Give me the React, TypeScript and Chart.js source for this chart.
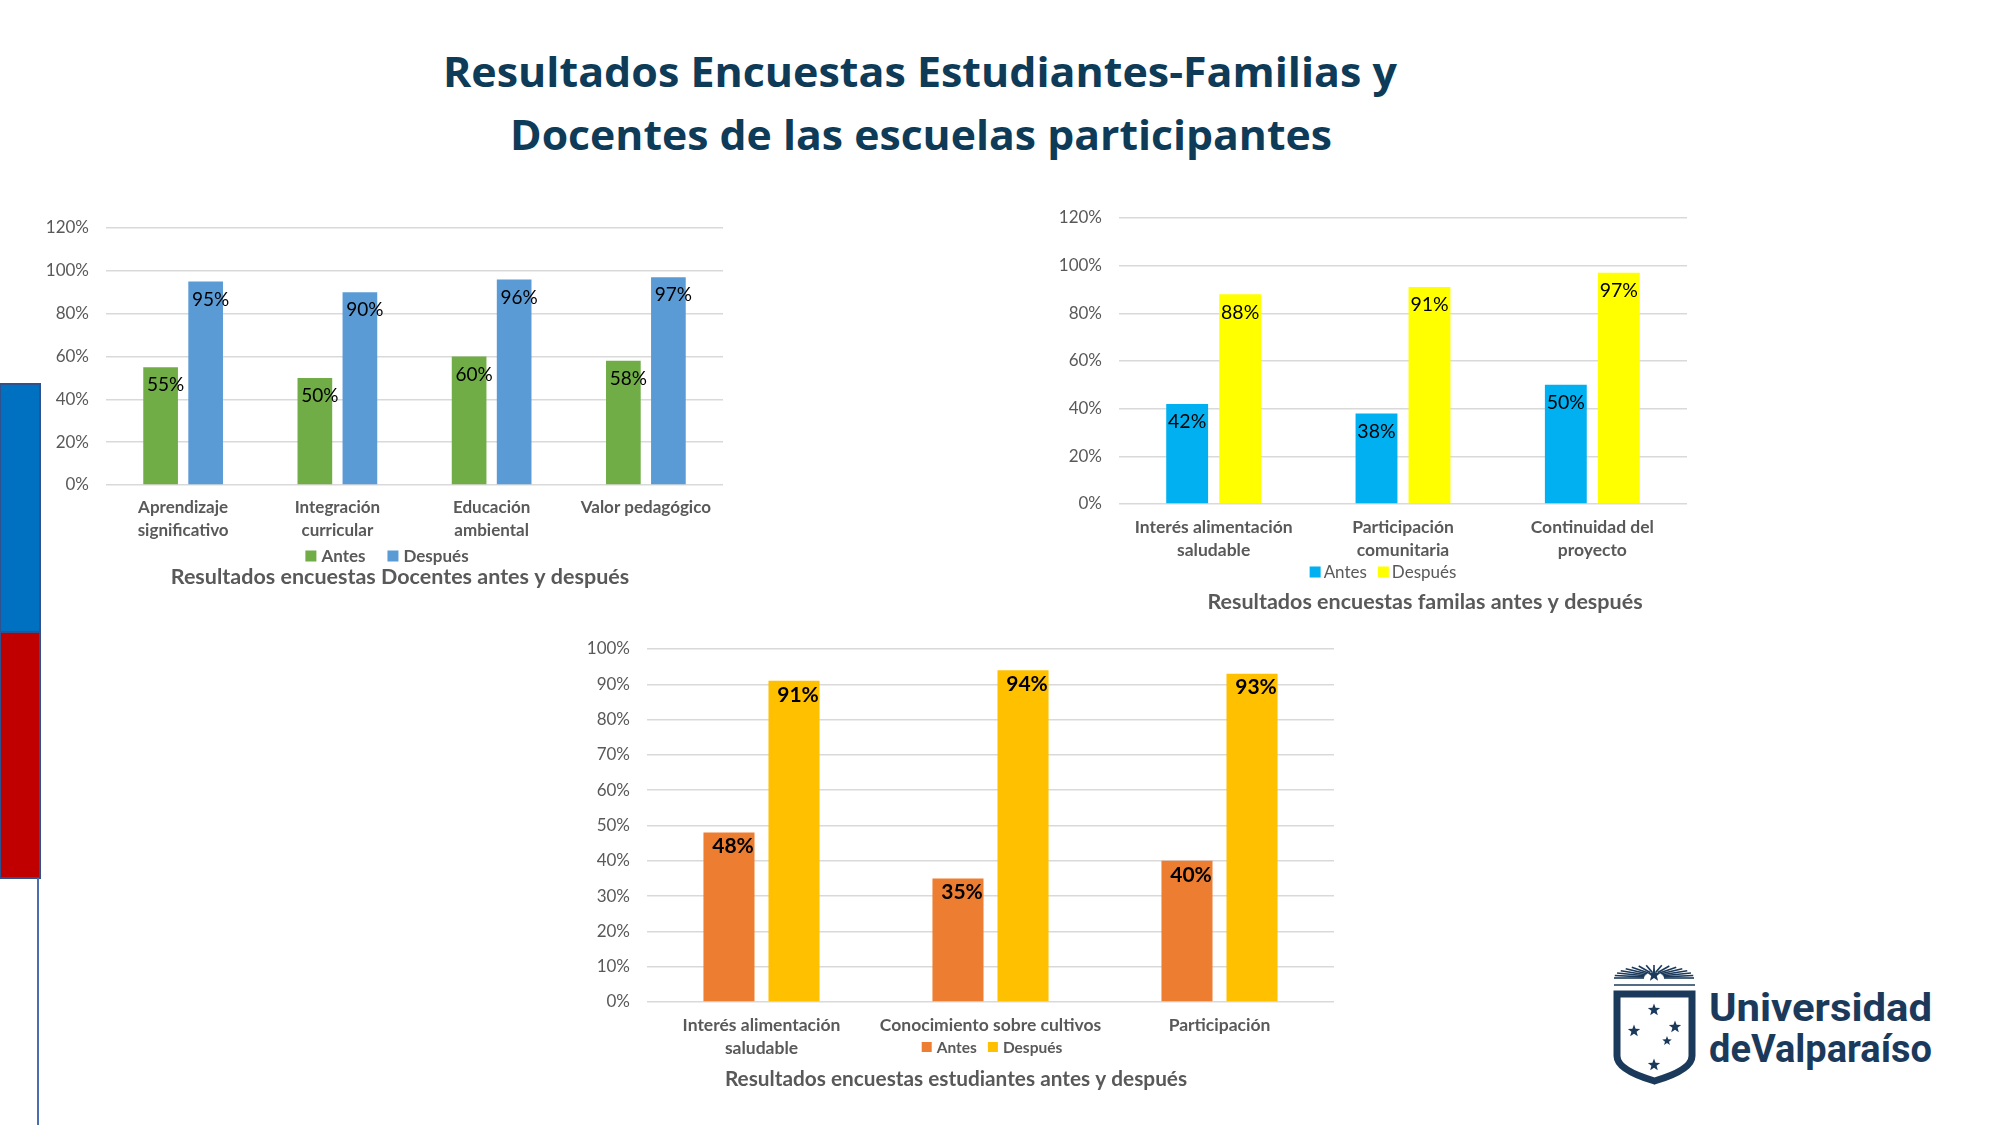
import React, { useEffect, useRef } from "react";
import { Chart, registerables } from "chart.js";

Chart.register(...registerables);

// ---------------- data ----------------
const seriesNames = ["Antes", "Después"];

const docentesCategories = [["Aprendizaje", "significativo"], ["Integración", "curricular"], ["Educación", "ambiental"], "Valor pedagógico"];
const docentesAntes = [55, 50, 60, 58];
const docentesDespues = [95, 90, 96, 97];
const docentesTitle = "Resultados encuestas Docentes antes y después";

const familiasCategories = [["Interés alimentación", "saludable"], ["Participación", "comunitaria"], ["Continuidad del", "proyecto"]];
const familiasAntes = [42, 38, 50];
const familiasDespues = [88, 91, 97];
const familiasTitle = "Resultados encuestas familas antes y después";

const estudiantesCategories = [["Interés alimentación", "saludable"], "Conocimiento sobre cultivos", "Participación"];
const estudiantesAntes = [48, 35, 40];
const estudiantesDespues = [91, 94, 93];
const estudiantesTitle = "Resultados encuestas estudiantes antes y después";

const pageTitle = ["Resultados Encuestas Estudiantes-Familias y", "Docentes de las escuelas participantes"];
const logoLines = ["Universidad", "deValparaíso"];

// ---------------- layout ----------------
const W = 2000;
const H = 1125;
const Y_W = 60;
const X_H = 100;
const GRAY = "#595959";
const FONT = "Lato";

const decorPlugin = {
  id: "decor",
  afterDatasetsDraw(chart: any, _args: any, opts: any) {
    const ctx = chart.ctx;
    ctx.save();
    // data labels
    ctx.font = opts.labelFont;
    ctx.fillStyle = "#000000";
    ctx.textAlign = "center";
    ctx.textBaseline = "middle";
    chart.data.datasets.forEach((ds: any, i: number) => {
      const meta = chart.getDatasetMeta(i);
      meta.data.forEach((bar: any, j: number) => {
        ctx.fillText(ds.data[j] + "%", bar.x + opts.labelDx, bar.y + opts.labelDy);
      });
    });
    // legend
    const lg = opts.legend;
    ctx.font = lg.font;
    ctx.textAlign = "left";
    const items = chart.data.datasets.map((ds: any) => ({
      text: ds.label,
      color: ds.backgroundColor,
      w: ctx.measureText(ds.label).width,
    }));
    let total = 0;
    items.forEach((it: any, k: number) => {
      total += lg.box + lg.boxGap + it.w + (k > 0 ? lg.itemGap : 0);
    });
    let x = lg.cx - total / 2;
    items.forEach((it: any) => {
      ctx.fillStyle = it.color;
      ctx.fillRect(x, lg.y - lg.box / 2, lg.box, lg.box);
      x += lg.box + lg.boxGap;
      ctx.fillStyle = GRAY;
      ctx.fillText(it.text, x, lg.y + 1);
      x += it.w + lg.itemGap;
    });
    // title
    const t = opts.title;
    ctx.font = t.font;
    ctx.fillStyle = GRAY;
    ctx.textAlign = "center";
    ctx.fillText(t.text, t.cx, t.y);
    ctx.restore();
  },
};

type Spec = {
  categories: any[];
  antes: number[];
  despues: number[];
  colors: [string, string];
  yMax: number;
  yStep: number;
  area: { left: number; top: number; right: number; bottom: number };
  catPct: number;
  barPct: number;
  catSize: number;
  catPadding: number;
  catLineHeight: number;
  labelFont: string;
  labelDx: number;
  labelDy: number;
  legend: { cx: number; y: number; box: number; boxGap: number; itemGap: number; font: string };
  title: { text: string; cx: number; y: number; font: string };
};

function BarChart({ spec }: { spec: Spec }) {
  const ref = useRef<HTMLCanvasElement | null>(null);
  useEffect(() => {
    if (!ref.current) return;
    const s = spec;
    const chart = new Chart(ref.current, {
      type: "bar",
      data: {
        labels: s.categories,
        datasets: [
          {
            label: seriesNames[0],
            data: s.antes,
            backgroundColor: s.colors[0],
            categoryPercentage: s.catPct,
            barPercentage: s.barPct,
          },
          {
            label: seriesNames[1],
            data: s.despues,
            backgroundColor: s.colors[1],
            categoryPercentage: s.catPct,
            barPercentage: s.barPct,
          },
        ],
      },
      options: {
        responsive: false,
        animation: false,
        devicePixelRatio: 1,
        layout: {
          padding: {
            left: s.area.left - Y_W,
            top: s.area.top,
            right: W - s.area.right,
            bottom: H - s.area.bottom - X_H,
          },
        },
        plugins: {
          legend: { display: false },
          title: { display: false },
          tooltip: { enabled: false },
          decor: {
            labelFont: s.labelFont,
            labelDx: s.labelDx,
            labelDy: s.labelDy,
            legend: s.legend,
            title: s.title,
          },
        } as any,
        scales: {
          x: {
            grid: { display: false, drawTicks: false },
            border: { display: false },
            ticks: {
              color: GRAY,
              font: { family: FONT, size: s.catSize, weight: "bold", lineHeight: s.catLineHeight },
              padding: s.catPadding,
              maxRotation: 0,
              minRotation: 0,
              autoSkip: false,
            },
            afterFit: (sc: any) => {
              sc.height = X_H;
            },
          },
          y: {
            min: 0,
            max: s.yMax,
            ticks: {
              stepSize: s.yStep,
              color: GRAY,
              font: { family: FONT, size: 17 },
              padding: 17,
              callback: (v: any) => v + "%",
            },
            grid: { color: "#D9D9D9", lineWidth: 1.5, drawTicks: false },
            border: { display: false },
            afterFit: (sc: any) => {
              sc.width = Y_W;
            },
          },
        },
      },
      plugins: [decorPlugin],
    });
    return () => chart.destroy();
  }, [spec]);
  return (
    <canvas
      ref={ref}
      width={W}
      height={H}
      style={{ position: "absolute", left: 0, top: 0, width: W, height: H }}
    />
  );
}

const docentesSpec: Spec = {
  categories: docentesCategories,
  antes: docentesAntes,
  despues: docentesDespues,
  colors: ["#70AD47", "#5B9BD5"],
  yMax: 120,
  yStep: 20,
  area: { left: 106, top: 228, right: 723, bottom: 485 },
  catPct: 0.584,
  barPct: 0.77,
  catSize: 17,
  catPadding: 11,
  catLineHeight: 1.35,
  labelFont: `19px ${FONT}`,
  labelDx: 5,
  labelDy: 18,
  legend: { cx: 387, y: 556, box: 11, boxGap: 5, itemGap: 22, font: `bold 17px ${FONT}` },
  title: { text: docentesTitle, cx: 400, y: 577, font: `bold 21.5px ${FONT}` },
};

const familiasSpec: Spec = {
  categories: familiasCategories,
  antes: familiasAntes,
  despues: familiasDespues,
  colors: ["#00B0F0", "#FFFF00"],
  yMax: 120,
  yStep: 20,
  area: { left: 1119, top: 218, right: 1687, bottom: 504 },
  catPct: 0.56,
  barPct: 0.79,
  catSize: 17.5,
  catPadding: 12,
  catLineHeight: 1.3,
  labelFont: `19.5px ${FONT}`,
  labelDx: 0,
  labelDy: 18,
  legend: { cx: 1383, y: 572, box: 11, boxGap: 3, itemGap: 11, font: `17px ${FONT}` },
  title: { text: familiasTitle, cx: 1425, y: 602, font: `bold 21.5px ${FONT}` },
};

const estudiantesSpec: Spec = {
  categories: estudiantesCategories,
  antes: estudiantesAntes,
  despues: estudiantesDespues,
  colors: ["#ED7D31", "#FFC000"],
  yMax: 100,
  yStep: 10,
  area: { left: 647, top: 649, right: 1334, bottom: 1002 },
  catPct: 0.568,
  barPct: 0.785,
  catSize: 17.5,
  catPadding: 12,
  catLineHeight: 1.32,
  labelFont: `bold 21px ${FONT}`,
  labelDx: 4,
  labelDy: 14,
  legend: { cx: 992, y: 1047, box: 10, boxGap: 5, itemGap: 11, font: `bold 15.5px ${FONT}` },
  title: { text: estudiantesTitle, cx: 956, y: 1079, font: `bold 20.8px ${FONT}` },
};

function star(cx: number, cy: number, r: number) {
  const pts: string[] = [];
  for (let i = 0; i < 10; i++) {
    const rr = i % 2 === 0 ? r : r * 0.42;
    const a = -Math.PI / 2 + (i * Math.PI) / 5;
    pts.push(`${cx + rr * Math.cos(a)},${cy + rr * Math.sin(a)}`);
  }
  return pts.join(" ");
}

function Decorations() {
  const navy = "#1B3A5B";
  const rays: any[] = [];
  for (let i = 0; i <= 16; i++) {
    const a = Math.PI + (i * Math.PI) / 16;
    rays.push(
      <line
        key={"r" + i}
        x1={1654 + 10 * Math.cos(a)}
        y1={978 + 6 * Math.sin(a)}
        x2={1654 + 40 * Math.cos(a)}
        y2={978 + 13 * Math.sin(a)}
        stroke={navy}
        strokeWidth={1.6}
      />
    );
  }
  return (
    <svg width={W} height={H} style={{ position: "absolute", left: 0, top: 0 }}>
      <rect x={0} y={384} width={40} height={248} fill="#0070C0" stroke="#2F528F" strokeWidth={2} />
      <rect x={0} y={632} width={40} height={246} fill="#C00000" stroke="#2F528F" strokeWidth={2} />
      <line x1={38} y1={878} x2={38} y2={1125} stroke="#4A6FB0" strokeWidth={2} />
      <text
        x={920}
        y={87}
        textAnchor="middle"
        textLength={954}
        lengthAdjust="spacingAndGlyphs"
        fontFamily="Open Sans"
        fontWeight="bold"
        fontSize={41}
        fill="#0E3B57"
      >
        {pageTitle[0]}
      </text>
      <text
        x={921}
        y={150}
        textAnchor="middle"
        textLength={822}
        lengthAdjust="spacingAndGlyphs"
        fontFamily="Open Sans"
        fontWeight="bold"
        fontSize={41}
        fill="#0E3B57"
      >
        {pageTitle[1]}
      </text>
      {/* logo */}
      {rays}
      <line x1={1614} y1={985} x2={1695} y2={985} stroke={navy} strokeWidth={1.5} />
      <polygon points={star(1654, 975, 7)} fill={navy} />
      <path
        d="M1617,994 H1692 V1056 Q1692,1070 1654.5,1081 Q1617,1070 1617,1056 Z"
        fill="#FFFFFF"
        stroke={navy}
        strokeWidth={7}
      />
      <polygon points={star(1654, 1010, 6.5)} fill={navy} />
      <polygon points={star(1634, 1031, 6.5)} fill={navy} />
      <polygon points={star(1675, 1027, 6.5)} fill={navy} />
      <polygon points={star(1667, 1041, 5)} fill={navy} />
      <polygon points={star(1654, 1065, 6.5)} fill={navy} />
      <text
        x={1709}
        y={1021}
        textLength={223}
        lengthAdjust="spacingAndGlyphs"
        fontFamily="Roboto"
        fontWeight="bold"
        fontSize={39}
        fill={navy}
      >
        {logoLines[0]}
      </text>
      <text
        x={1709}
        y={1062}
        textLength={223}
        lengthAdjust="spacingAndGlyphs"
        fontFamily="Roboto"
        fontWeight="bold"
        fontSize={39}
        fill={navy}
      >
        {logoLines[1]}
      </text>
    </svg>
  );
}

export default function App() {
  return (
    <div
      style={{
        position: "absolute",
        left: 0,
        top: 0,
        width: W,
        height: H,
        background: "#FFFFFF",
        overflow: "hidden",
      }}
    >
      <Decorations />
      <BarChart spec={docentesSpec} />
      <BarChart spec={familiasSpec} />
      <BarChart spec={estudiantesSpec} />
    </div>
  );
}
